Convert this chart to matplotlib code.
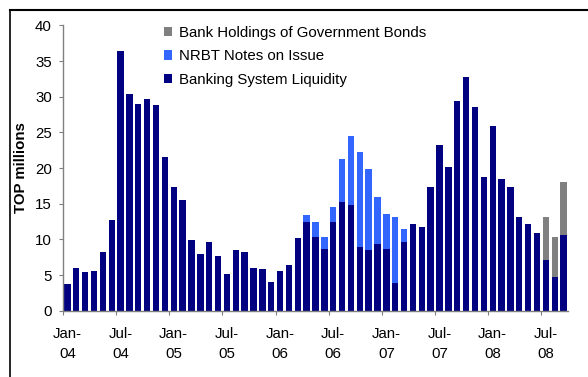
import numpy as np
import matplotlib
matplotlib.use('Agg')
import matplotlib.pyplot as plt
from matplotlib.lines import Line2D

plt.rcParams['font.family'] = ['Liberation Sans', 'DejaVu Sans']

# monthly, Jan-04 .. Sep-08
months = ['Jan-04', 'Feb-04', 'Mar-04', 'Apr-04', 'May-04', 'Jun-04',
          'Jul-04', 'Aug-04', 'Sep-04', 'Oct-04', 'Nov-04', 'Dec-04',
          'Jan-05', 'Feb-05', 'Mar-05', 'Apr-05', 'May-05', 'Jun-05',
          'Jul-05', 'Aug-05', 'Sep-05', 'Oct-05', 'Nov-05', 'Dec-05',
          'Jan-06', 'Feb-06', 'Mar-06', 'Apr-06', 'May-06', 'Jun-06',
          'Jul-06', 'Aug-06', 'Sep-06', 'Oct-06', 'Nov-06', 'Dec-06',
          'Jan-07', 'Feb-07', 'Mar-07', 'Apr-07', 'May-07', 'Jun-07',
          'Jul-07', 'Aug-07', 'Sep-07', 'Oct-07', 'Nov-07', 'Dec-07',
          'Jan-08', 'Feb-08', 'Mar-08', 'Apr-08', 'May-08', 'Jun-08',
          'Jul-08', 'Aug-08', 'Sep-08']

liquidity = [3.7, 6.0, 5.4, 5.6, 8.3, 12.7, 36.4, 30.4, 29.0, 29.7, 28.9, 21.6,
             17.4, 15.5, 9.9, 7.9, 9.7, 7.7, 5.1, 8.5, 8.2, 6.0, 5.8, 4.0,
             5.5, 6.4, 10.2, 12.5, 10.4, 8.6, 12.4, 15.2, 14.8, 9.0, 8.5, 9.3,
             8.6, 3.9, 9.6, 12.2, 11.8, 17.4, 23.3, 20.2, 29.4, 32.8, 28.5, 18.8,
             25.9, 18.5, 17.4, 13.2, 12.1, 10.9, 7.1, 4.7, 10.6]

nrbt_notes = [0.0] * 27 + [0.9, 2.1, 1.7, 2.2, 6.1, 9.7, 13.3, 11.4, 6.7, 5.0, 9.3, 1.8] + [0.0] * 18

gov_bonds = [0.0] * 54 + [6.0, 5.7, 7.5]

tick_labels = ['Jan-\n04', 'Jul-\n04', 'Jan-\n05', 'Jul-\n05', 'Jan-\n06',
               'Jul-\n06', 'Jan-\n07', 'Jul-\n07', 'Jan-\n08', 'Jul-\n08']

c_liq = '#000080'
c_nrbt = '#3366ff'
c_gov = '#808080'

fig = plt.figure(figsize=(5.88, 3.77), dpi=100)
ax = fig.add_axes([63/588, 1-310.7/377, 505/588, 285.3/377])

x = np.arange(len(months))
liq = np.array(liquidity)
nrb = np.array(nrbt_notes)
gov = np.array(gov_bonds)

w = 0.72
b1 = ax.bar(x, liq, w, color=c_liq, label='Banking System Liquidity')
b2 = ax.bar(x, nrb, w, bottom=liq, color=c_nrbt, label='NRBT Notes on Issue')
b3 = ax.bar(x, gov, w, bottom=liq+nrb, color=c_gov, label='Bank Holdings of Government Bonds')

ax.set_xlim(-0.5, len(months)-0.5)
ax.set_ylim(0, 40)
ax.set_yticks(np.arange(0, 41, 5))
ax.tick_params(axis='y', direction='out', length=3, width=0.8, color='#808080',
               labelsize=10.8, pad=5)

# tick marks sit between categories, labels centred on them
ax.set_xticks(np.arange(-0.5, len(months), 6))
ax.set_xticklabels([])
ax.tick_params(axis='x', which='major', direction='out', length=3, width=0.8, color='#808080')
ax.set_xticks(np.arange(0, len(months), 6), minor=True)
ax.set_xticklabels(tick_labels, minor=True, fontsize=10.8, linespacing=1.5)
ax.tick_params(axis='x', which='minor', length=0, pad=12)

for s in ['top', 'right']:
    ax.spines[s].set_visible(False)
for s in ['left', 'bottom']:
    ax.spines[s].set_color('#808080')
    ax.spines[s].set_linewidth(1.0)

ax.set_ylabel('TOP millions', fontsize=10.8, fontweight='bold', labelpad=5)

ax.legend(handles=[b3, b2, b1], loc='upper left', bbox_to_anchor=(164/588, 1-26/377),
          bbox_transform=fig.transFigure, frameon=False, fontsize=10.8,
          handlelength=0.55, handleheight=0.55, handletextpad=0.45,
          labelspacing=0.62, borderpad=0, borderaxespad=0)

# outer chart frame
fig.add_artist(Line2D([10/588, 1], [1-10/377, 1-10/377], color='black', lw=1.5))
fig.add_artist(Line2D([10/588, 10/588], [0, 1-10/377], color='black', lw=1.2))

fig.savefig('out.png', dpi=100)
